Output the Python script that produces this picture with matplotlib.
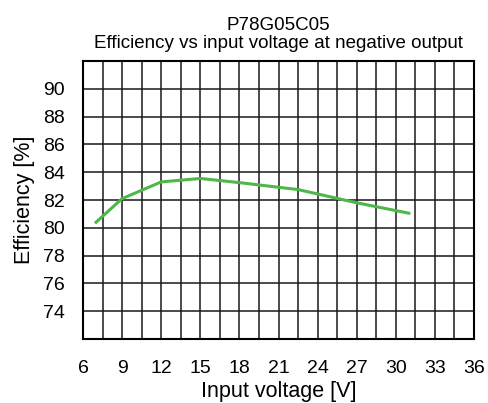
import numpy as np
import matplotlib
matplotlib.use("Agg")
import matplotlib.pyplot as plt

plt.rcParams['font.family'] = ['Liberation Sans', 'DejaVu Sans']

# efficiency curve
vin = [7, 9, 12, 15, 18, 22.5, 27, 31]
eff = [80.4, 82.1, 83.3, 83.55, 83.25, 82.75, 81.8, 81.05]

x_ticks = [6, 9, 12, 15, 18, 21, 24, 27, 30, 33, 36]
y_ticks = [74, 76, 78, 80, 82, 84, 86, 88, 90]

fig = plt.figure(figsize=(4.88, 4.03), dpi=100)
ax = fig.add_axes([83 / 488, 1 - 339 / 403, (474 - 83) / 488, (339 - 61) / 403])

ax.plot(vin, eff, color='#4db848', lw=2.2, zorder=3)

ax.set_xlim(6, 36)
ax.set_ylim(72, 92)
ax.set_xticks(x_ticks)
ax.set_yticks(y_ticks)
ax.set_xticks(np.arange(6, 36.01, 1.5), minor=True)
ax.set_yticks(np.arange(72, 92.01, 2), minor=True)
ax.grid(which='both', color='#1a1a1a', lw=1.1)
ax.tick_params(which='both', length=0)
ax.tick_params(axis='x', pad=15, labelsize=14)
ax.tick_params(axis='y', pad=13, labelsize=14)
for s in ax.spines.values():
    s.set_linewidth(1.5)
    s.set_color('black')

ax.set_xlabel('Input voltage [V]', fontsize=15.5, labelpad=3)
ax.set_ylabel('Efficiency [%]', fontsize=15.5, labelpad=6)
ax.set_title('P78G05C05\nEfficiency vs input voltage at negative output', fontsize=13.5, pad=9, linespacing=1.15)

fig.savefig('out.png', dpi=100)
